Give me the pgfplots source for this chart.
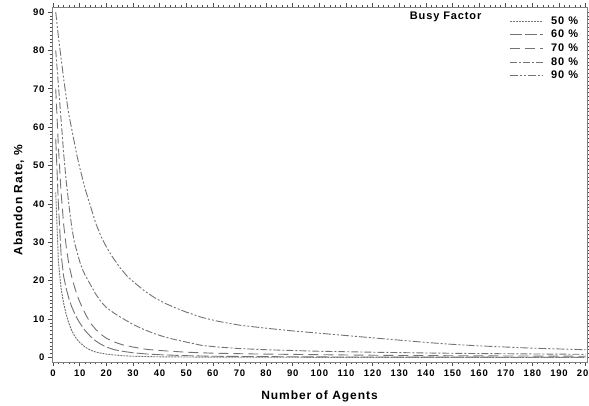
\documentclass[border=0pt]{standalone}
\usepackage{fontspec}
\setmainfont{Liberation Sans}[LetterSpace=8]
\usepackage{pgfplots}
\pgfplotsset{compat=1.18}
\usetikzlibrary{calc}

\definecolor{curve}{gray}{0.45}
\definecolor{frame}{gray}{0.5}

\begin{document}
\begin{tikzpicture}
\begin{axis}[
    scale only axis, width=535pt, height=355pt,
    xmin=-0.4, xmax=200.5, ymin=-1.2, ymax=91.3,
    xtick={0,10,...,200}, ytick={0,10,...,90},
    minor x tick num=4, minor y tick num=9,
    tick align=outside, major tick length=4pt, minor tick length=2pt,
    axis line style={frame, line width=0.8pt},
    every tick/.style={black!70, line width=0.6pt},
    /pgf/number format/assume math mode=true,
    tick label style={font=\bfseries\fontsize{9.5}{10}\selectfont},
    xlabel={Number of Agents}, ylabel={Abandon Rate, \%},
    label style={font=\bfseries\fontsize{12}{12}\selectfont},
    xlabel style={yshift=-8pt},
    ylabel style={at={(ticklabel cs:0.456)}, yshift=2pt},
    every axis plot/.append style={color=curve, line width=0.9pt},
    legend style={at={(rel axis cs:0.993,0.985)}, anchor=north east, draw=none, fill=none,
        font=\bfseries\fontsize{11}{11}\selectfont, row sep=0.5pt},
    legend cell align=left,
    legend image code/.code={\draw[#1] (0pt,0pt) -- (33pt,0pt); \path (39pt,0pt);},
]
% 50 %
\addplot[dash pattern=on 2pt off 1pt] coordinates {(1,43)(2,25)(3,18)(4,14)(5,11)(6,8.8)(7,7)(8,5.7)(9,4.7)(10,3.9)(12,2.7)(14,1.9)(16,1.4)(18,1.1)(20,0.85)(25,0.5)(30,0.3)(40,0.15)(60,0.06)(100,0.02)(200,0.01)};
% 60 %
\addplot[dash pattern=on 12pt off 3pt] coordinates {(1,57)(2,40)(3,27)(4,21)(5,17.8)(6,15.2)(7,13.2)(8,11.6)(9,10.2)(10,9)(12,7)(14,5.5)(16,4.3)(18,3.4)(20,2.7)(23,2)(26,1.6)(30,1.2)(35,0.9)(40,0.7)(50,0.45)(60,0.3)(80,0.2)(100,0.12)(150,0.06)(200,0.03)};
% 70 %
\addplot[dash pattern=on 10pt off 5pt] coordinates {(1,70)(2,55)(3,43)(4,34.5)(5,28.5)(6,24)(7,21)(8,18.5)(9,16.3)(10,14.5)(12,11.5)(14,9)(16,7.3)(18,6)(20,5)(23,4)(26,3.3)(30,2.7)(35,2.1)(40,1.8)(50,1.35)(60,1.1)(75,0.9)(100,0.7)(130,0.5)(160,0.4)(200,0.3)};
% 80 %
\addplot[dash pattern=on 7pt off 2pt on 2pt off 2pt] coordinates {(1,80)(2,71)(3,62)(4,53)(5,45.5)(6,39.5)(7,34)(8,30)(9,27.5)(10,25)(11,23)(12,21.5)(14,19)(16,16.5)(18,14.5)(20,13)(23,11.5)(26,10.2)(30,8.6)(34,7.3)(38,6.2)(42,5.3)(46,4.6)(50,4)(56,3.1)(62,2.7)(70,2.3)(80,2.0)(90,1.8)(100,1.6)(120,1.35)(140,1.15)(160,1.0)(180,0.9)(200,0.8)};
% 90 %
\addplot[dash pattern=on 8pt off 2pt on 2pt off 2pt on 2pt off 2pt] coordinates {(1,90)(2,83.5)(3,78)(4,72.5)(5,67.5)(6,63)(7,59.5)(8,56)(9,52.5)(10,49.5)(12,44)(14,39.5)(16,35)(18,31.5)(20,28.8)(22,26.5)(25,23.5)(28,21)(30,19.8)(34,17.5)(38,15.6)(42,14.1)(46,12.9)(50,11.8)(56,10.4)(62,9.4)(70,8.4)(80,7.6)(90,6.9)(100,6.3)(110,5.7)(120,5.1)(130,4.5)(140,3.9)(150,3.4)(160,3.0)(170,2.7)(180,2.4)(190,2.2)(200,2.0)};
\legend{50 \%, 60 \%, 70 \%, 80 \%, 90 \%}
\node[font=\bfseries\fontsize{11}{11}\selectfont] at (axis cs:147.4,88.7) {Busy Factor};
\end{axis}
\pgfresetboundingbox
\path[use as bounding box] ($(current axis.south west)+(-52pt,-43pt)$) rectangle ($(current axis.north east)+(2pt,7pt)$);
\end{tikzpicture}
\end{document}
